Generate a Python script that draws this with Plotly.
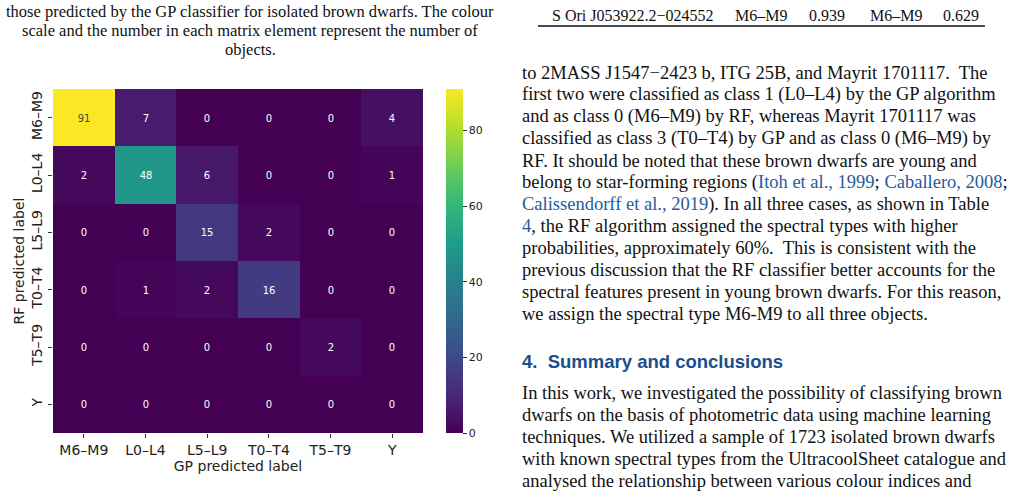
import plotly.graph_objects as go

# ---- data ----
gp_labels = ["M6–M9", "L0–L4", "L5–L9", "T0–T4", "T5–T9", "Y"]   # columns (x)
rf_labels = ["M6–M9", "L0–L4", "L5–L9", "T0–T4", "T5–T9", "Y"]   # rows (y)
row_m6m9 = [91, 7, 0, 0, 0, 4]
row_l0l4 = [2, 48, 6, 0, 0, 1]
row_l5l9 = [0, 0, 15, 2, 0, 0]
row_t0t4 = [0, 1, 2, 16, 0, 0]
row_t5t9 = [0, 0, 0, 0, 2, 0]
row_y = [0, 0, 0, 0, 0, 0]
colorbar_ticks = [0, 20, 40, 60, 80]

z = [row_m6m9, row_l0l4, row_l5l9, row_t0t4, row_t5t9, row_y]

W, H = 1012, 501
def px(x):
    return x / W
def py(y):
    return 1 - y / H

fig = go.Figure()
fig.add_trace(go.Heatmap(
    z=z, x=gp_labels, y=rf_labels,
    colorscale="Viridis", zmin=0, zmax=91,
    texttemplate="%{z}", textfont=dict(family="DejaVu Sans", size=10),
    xgap=0, ygap=0,
    colorbar=dict(
        x=px(446), xanchor="left", xpad=0, ypad=0, thickness=17, thicknessmode="pixels",
        len=344 / H, lenmode="fraction", y=py(261), yanchor="middle",
        outlinewidth=0, tickvals=colorbar_ticks, ticks="outside", ticklen=4,
        tickcolor="#333", tickfont=dict(family="DejaVu Sans", size=11, color="#222"),
    ),
    hoverinfo="skip",
))

fig.update_layout(
    width=W, height=H, margin=dict(l=0, r=0, t=0, b=0),
    paper_bgcolor="white", plot_bgcolor="white", showlegend=False,
    xaxis=dict(domain=[px(53), px(423)], ticks="outside", ticklen=4, tickcolor="#333",
               showgrid=False, zeroline=False, showline=False,
               tickfont=dict(family="DejaVu Sans", size=14, color="#222"),
               title=dict(text="GP predicted label", standoff=1,
                          font=dict(family="DejaVu Sans", size=14, color="#222"))),
    yaxis=dict(domain=[py(433), py(89)], autorange="reversed", ticks="outside", ticklen=4,
               tickcolor="#333", tickangle=-90, showgrid=False, zeroline=False, showline=False,
               tickfont=dict(family="DejaVu Sans", size=14, color="#222"),
               title=dict(text="RF predicted label", standoff=1,
                          font=dict(family="DejaVu Sans", size=14, color="#222"))),
)

serif = "Liberation Serif"
caption = [
    "those predicted by the GP classifier for isolated brown dwarfs. The colour",
    "scale and the number in each matrix element represent the number of",
    "objects.",
]
for i, line in enumerate(caption):
    fig.add_annotation(x=px(250), y=py(12 + 19 * i), xref="paper", yref="paper",
                       text=line, showarrow=False, xanchor="center", yanchor="middle",
                       font=dict(family=serif, size=16.5, color="#111"))

# table row
table_cells = [("S Ori J053922.2−024552", 550), ("M6–M9", 733), ("0.939", 807),
               ("M6–M9", 868), ("0.629", 941)]
for t, x0 in table_cells:
    fig.add_annotation(x=px(x0), y=py(15), xref="paper", yref="paper", text=t,
                       showarrow=False, xanchor="left", yanchor="middle",
                       font=dict(family=serif, size=16, color="#111"))
fig.add_shape(type="line", xref="paper", yref="paper", x0=px(538), x1=px(985),
              y0=py(26), y1=py(26), line=dict(color="#111", width=1.3))

blue = "#1f5c9e"
def link(s):
    return f'<span style="color:{blue}">{s}</span>'

body1 = [
    "to 2MASS J1547−2423 b, ITG 25B, and Mayrit 1701117.  The",
    "first two were classified as class 1 (L0–L4) by the GP algorithm",
    "and as class 0 (M6–M9) by RF, whereas Mayrit 1701117 was",
    "classified as class 3 (T0–T4) by GP and as class 0 (M6–M9) by",
    "RF. It should be noted that these brown dwarfs are young and",
    "belong to star-forming regions (" + link("Itoh et al., 1999") + "; " + link("Caballero, 2008") + ";",
    link("Calissendorff et al., 2019") + "). In all three cases, as shown in Table",
    link("4") + ", the RF algorithm assigned the spectral types with higher",
    "probabilities, approximately 60%.  This is consistent with the",
    "previous discussion that the RF classifier better accounts for the",
    "spectral features present in young brown dwarfs. For this reason,",
    "we assign the spectral type M6-M9 to all three objects.",
]
for i, line in enumerate(body1):
    fig.add_annotation(x=px(520), y=py(73 + 21.9 * i), xref="paper", yref="paper",
                       text=line, showarrow=False, xanchor="left", yanchor="middle",
                       font=dict(family=serif, size=18.5, color="#111"))

fig.add_annotation(x=px(520), y=py(361), xref="paper", yref="paper",
                   text="<b>4.  Summary and conclusions</b>", showarrow=False,
                   xanchor="left", yanchor="middle",
                   font=dict(family="Liberation Sans", size=18.5, color="#1b4e8c"))

body2 = [
    "In this work, we investigated the possibility of classifying brown",
    "dwarfs on the basis of photometric data using machine learning",
    "techniques. We utilized a sample of 1723 isolated brown dwarfs",
    "with known spectral types from the UltracoolSheet catalogue and",
    "analysed the relationship between various colour indices and",
]
for i, line in enumerate(body2):
    fig.add_annotation(x=px(520), y=py(393 + 22 * i), xref="paper", yref="paper",
                       text=line, showarrow=False, xanchor="left", yanchor="middle",
                       font=dict(family=serif, size=18.5, color="#111"))

fig.write_html("out.html")
